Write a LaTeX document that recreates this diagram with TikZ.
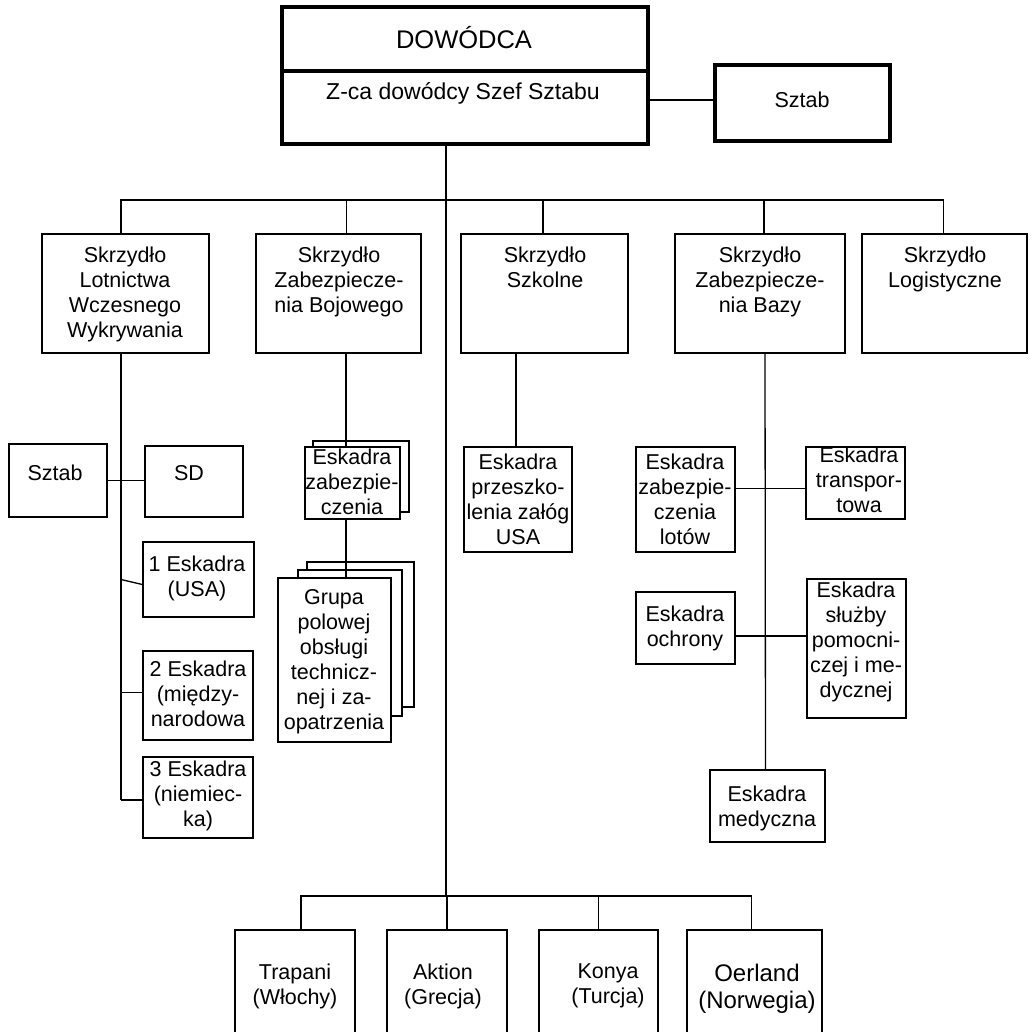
\documentclass[tikz,border=0pt]{standalone}
\usepackage{fontspec}
\setmainfont{Liberation Sans}
\usetikzlibrary{fit}
\begin{document}
\begin{tikzpicture}[x=1pt,y=-1pt,
  box/.style={draw, line width=1.3pt, fill=white, inner sep=0pt},
  thickbox/.style={draw, line width=3.6pt, fill=white, inner sep=0pt},
  txt/.style={align=center, inner sep=0pt, anchor=north, yshift=17.5pt,
    font=\fontsize{21.5}{25}\selectfont, execute at begin node=\strut},
  conn/.style={line width=1.3pt}]
\useasboundingbox (0,0) rectangle (1033,1031);
\clip (0,0) rectangle (1033,1031);
\fill[white] (0,0) rectangle (1033,1031);

% ---- top
\node[thickbox, fit={(282,7)(648,144)}] (cmd) {};
\coordinate (div) at (465,71);
\draw[line width=3.6pt] (cmd.west |- div) -- (cmd.east |- div);
\node[inner sep=0pt, anchor=base, font=\fontsize{25.5}{29}\selectfont] (cmdt) at (464,48) {DOWÓDCA};
\node[inner sep=0pt, anchor=base, font=\fontsize{23}{27}\selectfont] (zcat) at (463,99) {Z-ca dowódcy Szef Sztabu};
\node[thickbox, fit={(715,65)(890,141)}] (sztabT) {};
\node[inner sep=0pt, anchor=base, font=\fontsize{21.5}{25}\selectfont] (sztabTt) at (802,107) {Sztab};

% ---- wings
\node[box, fit={(42,234)(209,353)}] (w1) {};
\node[box, fit={(256,234)(421,353)}] (w2) {};
\node[box, fit={(461,234)(628,353)}] (w3) {};
\node[box, fit={(675,234)(845,353)}] (w4) {};
\node[box, fit={(862,234)(1027,353)}] (w5) {};
\node[txt] (w1t) at (125,264) {Skrzydło\\Lotnictwa\\Wczesnego\\Wykrywania};
\node[txt] (w2t) at (339,264) {Skrzydło\\Zabezpiecze-\\nia Bojowego};
\node[txt] (w3t) at (545,264) {Skrzydło\\Szkolne};
\node[txt] (w4t) at (760,264) {Skrzydło\\Zabezpiecze-\\nia Bazy};
\node[txt] (w5t) at (945,264) {Skrzydło\\Logistyczne};

% ---- left column
\node[box, fit={(9,444)(107,517)}] (sztabL) {};
\node[box, fit={(145,446)(243,517)}] (sd) {};
\node[box, fit={(143,542)(254,617)}] (e1) {};
\node[box, fit={(143,651)(253,740)}] (e2) {};
\node[box, fit={(143,757)(253,838)}] (e3) {};
\node[txt] (sztabLt) at (55,480) {Sztab};
\node[txt] (sdt) at (189,480) {SD};
\node[txt] (e1t) at (197,573) {1 Eskadra\\(USA)};
\node[txt] (e2t) at (198,678) {2 Eskadra\\(między-\\narodowa};
\node[txt] (e3t) at (198,778) {3 Eskadra\\(niemiec-\\ka)};

% ---- W2 stacks
\node[box, fit={(313,441)(409,512)}] (ezb) {};
\node[box, fit={(305,447)(400,519)}] (ez) {};
\node[txt] (ezt) at (352,466) {Eskadra\\zabezpie-\\czenia};
\node[box, fit={(307,562)(414,707)}] (gr2) {};
\node[box, fit={(298,570)(402,716)}] (gr1) {};
\node[box, fit={(278,578)(391,742)}] (gr) {};
\node[txt] (grt) at (334,607) {Grupa\\polowej\\obsługi\\technicz-\\nej i za-\\opatrzenia};

% ---- W3 / W4 children
\node[box, fit={(464,447)(572,552)}] (prz) {};
\node[txt] (przt) at (518,471) {Eskadra\\przeszko-\\lenia załóg\\USA};
\node[box, fit={(636,447)(735,552)}] (lot) {};
\node[txt] (lott) at (685,471) {Eskadra\\zabezpie-\\czenia\\lotów};
\node[box, fit={(806,447)(905,519)}] (tra) {};
\node[txt] (trat) at (859,464) {Eskadra\\transpor-\\towa};
\node[box, fit={(636,592)(735,664)}] (och) {};
\node[txt] (ocht) at (685,623) {Eskadra\\ochrony};
\node[box, fit={(807,579)(906,718)}] (slu) {};
\node[txt] (slut) at (856,599) {Eskadra\\służby\\pomocni-\\czej i me-\\dycznej};
\node[box, fit={(710,770)(825,842)}] (med) {};
\node[txt] (medt) at (767,803) {Eskadra\\medyczna};

% ---- bottom
\node[box, fit={(235,930)(355,1050)}] (b1) {};
\node[box, fit={(387,930)(507,1050)}] (b2) {};
\node[box, fit={(539,930)(658,1050)}] (b3) {};
\node[box, fit={(687,930)(822,1050)}] (b4) {};
\node[txt] (b1t) at (295,981) {Trapani\\(Włochy)};
\node[txt] (b2t) at (443,981) {Aktion\\(Grecja)};
\node[txt] (b3t) at (608,981) {Konya\\(Turcja)};
\node[txt, font=\fontsize{24}{27}\selectfont] (b4t) at (757,981) {Oerland\\(Norwegia)};

% ---- connectors
\coordinate (tb) at (446,200);
\coordinate (bb) at (446,896);
\coordinate (st) at (680,100);
\draw[conn] (st -| cmd.east) -- (st -| sztabT.west);
\draw[conn] (cmd.south -| tb) -- (bb);
\draw[conn] (tb) -| ([xshift=-4.5pt]w1.north);
\draw[conn] (tb) -| ([xshift=-1pt]w5.north);
\draw[conn] (tb -| w2.north) ++(8pt,0) -- ([xshift=8pt]w2.north);
\draw[conn] (tb -| w3.north) ++(-1.5pt,0) -- ([xshift=-1.5pt]w3.north);
\draw[conn] (tb -| w4.north) ++(4pt,0) -- ([xshift=4pt]w4.north);
% W1
\coordinate (v1) at (121,800);
\draw[conn] (w1.south -| v1) -- (v1);
\draw[conn] (sztabL.east) -- (sztabL.east -| sd.west);
\draw[conn] (e1.west -| v1) -- ([yshift=-5pt]e1.west);
\draw[conn] ([yshift=3pt]e2.west -| v1) -- ([yshift=3pt]e2.west);
\draw[conn] (v1) -- (v1 -| e3.west);
% W2
\draw[conn] ([xshift=7.5pt]w2.south) -- (ez.north -| 346,0);
\draw[conn] (ez.south -| 346,0) -- (gr.north -| 346,0);
% W3
\draw[conn] (w3.south -| prz.north) ++(-2pt,0) -- ([xshift=-2pt]prz.north);
% W4
\draw[conn] ([xshift=5pt]w4.south) -- ([xshift=-2pt]med.north);
\draw[conn] ([yshift=11pt]lot.east) -- ([yshift=11pt]lot.east -| tra.west);
\draw[conn] ([yshift=-8pt]och.east) -- ([yshift=-8pt]och.east -| slu.west);
% bottom bus
\draw[conn] ([xshift=6pt]b1.north) |- (bb);
\draw[conn] ([xshift=-3pt]b4.north) |- (bb);
\draw[conn] (bb -| b2.north) -- (b2.north);
\draw[conn] (bb -| b3.north) -- (b3.north);
\end{tikzpicture}
\end{document}
